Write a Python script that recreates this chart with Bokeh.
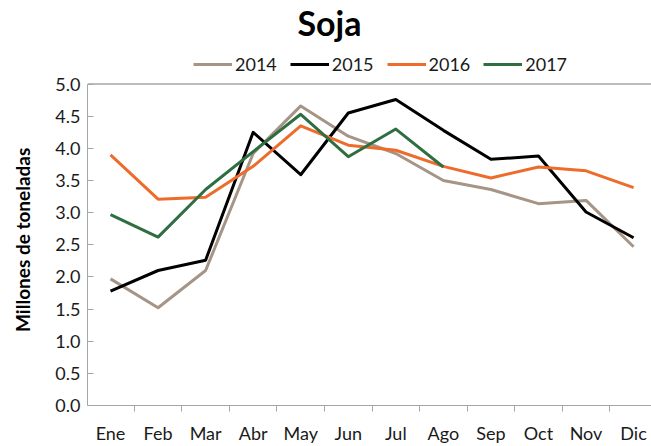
from bokeh.plotting import figure
from bokeh.models import (Range1d, FixedTicker, NumeralTickFormatter, Legend, LegendItem,
                          Span, Label)
from bokeh.embed import file_html
from bokeh.resources import INLINE

months = ["Ene", "Feb", "Mar", "Abr", "May", "Jun", "Jul", "Ago", "Sep", "Oct", "Nov", "Dic"]
y2014 = [1.97, 1.52, 2.10, 3.92, 4.66, 4.19, 3.92, 3.50, 3.36, 3.14, 3.19, 2.47]
y2015 = [1.78, 2.10, 2.26, 4.25, 3.59, 4.55, 4.76, 4.28, 3.83, 3.88, 3.01, 2.61]
y2016 = [3.90, 3.21, 3.24, 3.72, 4.35, 4.05, 3.97, 3.72, 3.54, 3.71, 3.65, 3.39]
y2017 = [2.97, 2.62, 3.36, 3.95, 4.53, 3.87, 4.30, 3.71]
series_names = ["2014", "2015", "2016", "2017"]
y_ticks = [0.0, 0.5, 1.0, 1.5, 2.0, 2.5, 3.0, 3.5, 4.0, 4.5, 5.0]
y_min, y_max = 0.0, 5.0
title_text = "Soja"
y_label = "Millones de toneladas"

colors = ["#A69587", "#000000", "#EE6C2B", "#2F6E41"]
FONT = "Lato"

p = figure(width=651, height=446, output_backend="svg", toolbar_location=None,
           x_range=Range1d(-0.484, 11.377), y_range=Range1d(0, 6.30),
           min_border_left=87, min_border_top=0, min_border_bottom=39, min_border_right=0,
           title=None)
p.outline_line_color = None
p.xgrid.grid_line_color = None
p.ygrid.grid_line_color = None
p.background_fill_color = "white"
p.border_fill_color = "white"

renderers = []
for name, ys, c in zip(series_names, [y2014, y2015, y2016, y2017], colors):
    xs = list(range(len(ys)))
    r = p.line(xs, ys, line_color=c, line_width=3, line_join="round")
    renderers.append(r)

# top border line of the plot area
p.add_layout(Span(location=y_max, dimension="width", line_color="#A6A6A6", line_width=1.5))

# x axis
xa = p.xaxis[0]
xa.ticker = FixedTicker(ticks=list(range(len(months))),
                        minor_ticks=[i + 0.5 for i in range(len(months) - 1)])
xa.major_label_overrides = {i: m for i, m in enumerate(months)}
xa.major_tick_line_color = None
xa.major_tick_in = 0
xa.major_tick_out = 0
xa.minor_tick_line_color = "#A6A6A6"
xa.minor_tick_in = 0
xa.minor_tick_out = 6
xa.axis_line_color = "#A6A6A6"
xa.major_label_text_font = FONT
xa.major_label_text_font_size = "18px"
xa.major_label_text_color = "#1a1a1a"
xa.major_label_standoff = 10

# y axis
ya = p.yaxis[0]
ya.bounds = (y_min, y_max)
ya.ticker = FixedTicker(ticks=y_ticks, minor_ticks=[])
ya.formatter = NumeralTickFormatter(format="0.0")
ya.axis_line_color = "#A6A6A6"
ya.major_tick_line_color = "#A6A6A6"
ya.major_tick_in = 6
ya.major_tick_out = 0
ya.minor_tick_line_color = None
ya.major_label_text_font = FONT
ya.major_label_text_font_size = "18px"
ya.major_label_text_color = "#1a1a1a"
ya.major_label_standoff = 7
# trailing em spaces move the visible text down to the centre of the 0-5 axis
ya.axis_label = y_label + "\u2003" * 5 + "\u2009"
ya.axis_label_text_font = FONT
ya.axis_label_text_font_size = "19px"
ya.axis_label_text_font_style = "bold"
ya.axis_label_text_color = "#000000"
ya.axis_label_standoff = 18

legend = Legend(items=[LegendItem(label=n, renderers=[r]) for n, r in zip(series_names, renderers)],
                orientation="horizontal", location=(106, 330),
                glyph_width=39, glyph_height=20, label_height=20, label_standoff=3, spacing=13,
                padding=0, margin=0, border_line_color=None, background_fill_alpha=0,
                label_text_font=FONT, label_text_font_size="18px", label_text_color="#1a1a1a")
p.add_layout(legend)

p.add_layout(Label(x=242, y=383, x_units="screen", y_units="screen", text=title_text,
                   text_font=FONT, text_font_size="34px", text_font_style="bold",
                   text_align="center", text_baseline="middle", text_color="#000000"))

open("out.html", "w").write(file_html(p, INLINE))
